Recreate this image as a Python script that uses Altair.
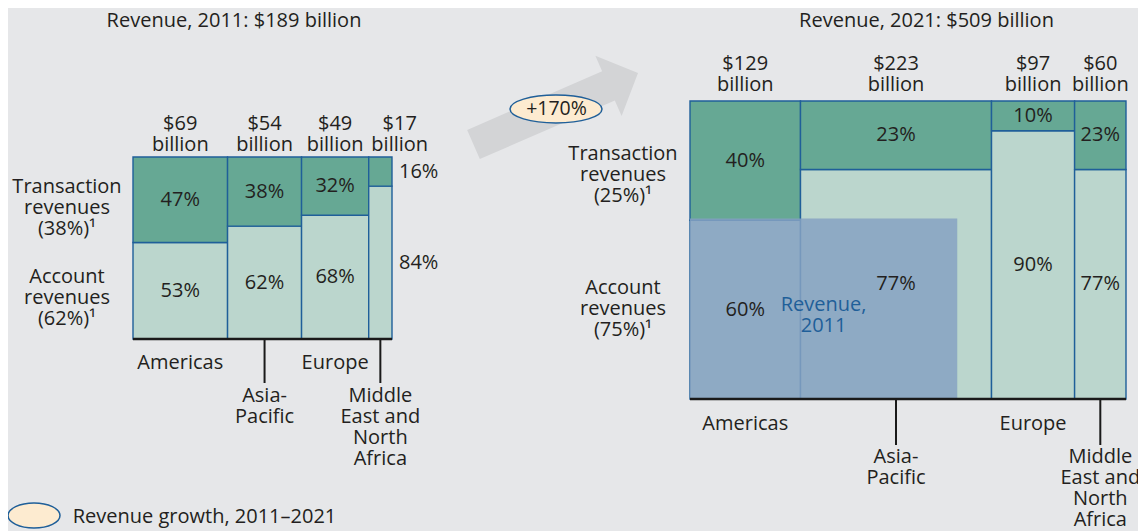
import altair as alt
import pandas as pd

# ---------------- data ----------------
regions = ["Americas", "Asia-Pacific", "Europe", "Middle East and North Africa"]
region_labels = ["Americas", "Asia-\nPacific", "Europe", "Middle\nEast and\nNorth\nAfrica"]
rev_2011 = [69, 54, 49, 17]
txn_2011 = [47, 38, 32, 16]
acc_2011 = [53, 62, 68, 84]
rev_2021 = [129, 223, 97, 60]
txn_2021 = [40, 23, 10, 23]
acc_2021 = [60, 77, 90, 77]
total_2011 = 189
total_2021 = 509
txn_share = {2011: 38, 2021: 25}
acc_share = {2011: 62, 2021: 75}
growth_pct = 170
overlay_width_2011 = 312  # 2011 block drawn at 2021 scale, width in $ billion units

# ---------------- style ----------------
BG = "#e6e7e9"
DARK = "#66a894"
LIGHT = "#bbd6cd"
EDGE = "#1f5f99"
OVER = "#86a2c2"
INK = "#231f20"
FONT = "Open Sans"
FS = 20
LH = 21

W, H, M = 1130, 523, 8


def build(rev, txn, acc):
    seg, col = [], []
    x = 0
    for i, (r, t, a) in enumerate(zip(rev, txn, acc)):
        seg.append(dict(idx=i, region=regions[i], seg="Account", x0=x, x1=x + r, y0=0, y1=a, pct=f"{a}%"))
        seg.append(dict(idx=i, region=regions[i], seg="Transaction", x0=x, x1=x + r, y0=a, y1=a + t, pct=f"{t}%"))
        col.append(dict(idx=i, label=region_labels[i], value=f"${r}\nbillion",
                        x0=x, x1=x + r, xm=x + r / 2, odd=i % 2))
        x += r
    return pd.DataFrame(seg), pd.DataFrame(col)


seg11, col11 = build(rev_2011, txn_2011, acc_2011)
seg21, col21 = build(rev_2021, txn_2021, acc_2021)
base11 = pd.DataFrame([dict(x0=0, x1=total_2011, y=0)])
base21 = pd.DataFrame([dict(x0=0, x1=total_2021, y=0)])
ov = pd.DataFrame([dict(x0=0, x1=overlay_width_2011, y0=0,
                        y1=total_2011 / overlay_width_2011 * 100, label="Revenue,\n2011")])


def xscale(left_px, right_px, total):
    ppu = (right_px - left_px) / total
    x0 = left_px - M
    return alt.Scale(domain=[-x0 / ppu, (W - x0) / ppu], nice=False, zero=False)


def yscale(top_px, bottom_px):
    ppu = (bottom_px - top_px) / 100
    y0 = bottom_px - M
    return alt.Scale(domain=[-(H - y0) / ppu, y0 / ppu], nice=False, zero=False)


XL = xscale(133, 392, total_2011)
YL = yscale(157, 339)
XR = xscale(690, 1126, total_2021)
YR = yscale(101, 399)

txt = dict(font=FONT, fontSize=FS, color=INK, lineBreak="\n", lineHeight=LH)
color = alt.Color("seg:N", scale=alt.Scale(domain=["Transaction", "Account"], range=[DARK, LIGHT]), legend=None)
NARROW = 25  # $ billion: columns narrower than this get their labels outside


def qx(f, s):
    return alt.X(f, type="quantitative", scale=s, axis=None)


def qy(f, s):
    return alt.Y(f, type="quantitative", scale=s, axis=None)


def rects(df, xs, ys):
    return alt.Chart(df).mark_rect(stroke=EDGE, strokeWidth=1.4).encode(
        x=qx("x0", xs), x2="x1", y=qy("y0", ys), y2="y1", color=color)


def pct_labels(df, xs, ys):
    b = alt.Chart(df).transform_calculate(
        xm="(datum.x0+datum.x1)/2", ym="(datum.y0+datum.y1)/2", w="datum.x1-datum.x0")
    inside = b.transform_filter(f"datum.w >= {NARROW}").mark_text(baseline="middle", **txt).encode(
        x=qx("xm:Q", xs), y=qy("ym:Q", ys), text="pct:N")
    outside = b.transform_filter(f"datum.w < {NARROW}").mark_text(baseline="middle", align="left", dx=7, **txt).encode(
        x=qx("x1:Q", xs), y=qy("ym:Q", ys), text="pct:N")
    return [inside, outside]


def axis_parts(col, base, xs, ys, top_dy, even_dy, odd_dy, tick_len):
    baseline = alt.Chart(base).mark_rule(color="#1a1a1a", strokeWidth=2.5).encode(
        x=qx("x0", xs), x2="x1", y=qy("y", ys))
    ticks = alt.Chart(col).transform_filter("datum.odd == 1").transform_calculate(ymin="0").mark_rule(
        color="#1a1a1a", strokeWidth=2, y2Offset=tick_len).encode(
        x=qx("xm", xs), y=qy("ymin:Q", ys), y2="ymin:Q")
    even = alt.Chart(col).transform_filter("datum.odd == 0").transform_calculate(yb="0").mark_text(
        baseline="top", dy=even_dy, **txt).encode(x=qx("xm", xs), y=qy("yb:Q", ys), text="label:N")
    odd = alt.Chart(col).transform_filter("datum.odd == 1").transform_calculate(yb="0").mark_text(
        baseline="top", dy=odd_dy, **txt).encode(x=qx("xm", xs), y=qy("yb:Q", ys), text="label:N")
    vb = alt.Chart(col).transform_calculate(yt="100", w="datum.x1-datum.x0")
    vals = vb.transform_filter(f"datum.w >= {NARROW}").mark_text(
        baseline="top", dy=top_dy, **txt).encode(x=qx("xm", xs), y=qy("yt:Q", ys), text="value:N")
    vals_n = vb.transform_filter(f"datum.w < {NARROW}").mark_text(
        baseline="top", dy=top_dy, dx=31, **txt).encode(x=qx("x0", xs), y=qy("yt:Q", ys), text="value:N")
    return [baseline, ticks, even, odd, vals, vals_n]


one = pd.DataFrame({"a": [0]})


def note(text, x, y, **kw):
    opts = dict(txt)
    opts.update(kw)
    return alt.Chart(one).mark_text(text=text, **opts).encode(x=alt.value(x), y=alt.value(y))


overlay = alt.Chart(ov).mark_rect(color=OVER, opacity=0.85).encode(
    x=qx("x0", XR), x2="x1", y=qy("y0", YR), y2="y1")
overlay_text = alt.Chart(ov).transform_calculate(
    cx="datum.x1/2", cy="datum.y1/2").mark_text(
    baseline="top", dy=-14, **{**txt, "color": EDGE}).encode(
    x=qx("cx:Q", XR), y=qy("cy:Q", YR), text="label:N")

ARROW = "M-1,-0.177L0.641,-0.177L0.641,-0.367L1,0L0.641,0.367L0.641,0.177L-1,0.177Z"
ELL_A = "M-1,0A1,0.304,0,1,0,1,0A1,0.304,0,1,0,-1,0Z"
ELL_L = "M-1,0A1,0.48,0,1,0,1,0A1,0.48,0,1,0,-1,0Z"

arrow = alt.Chart(one).mark_point(shape=ARROW, size=179.4 ** 2, filled=True, color="#d3d4d6",
                                  opacity=1, angle=336.5, strokeWidth=0).encode(
    x=alt.value(547.75), y=alt.value(100.75))
ell = alt.Chart(one).mark_point(shape=ELL_A, size=92 ** 2, filled=True, fill="#fdebd0",
                                stroke=EDGE, strokeWidth=1.5, opacity=1).encode(
    x=alt.value(548), y=alt.value(101))
ell_leg = alt.Chart(one).mark_point(shape=ELL_L, size=52 ** 2, filled=True, fill="#fdebd0",
                                    stroke=EDGE, strokeWidth=1.5, opacity=1).encode(
    x=alt.value(26), y=alt.value(507.5))

layers = [
    rects(seg11, XL, YL),
    rects(seg21, XR, YR),
    overlay,
    overlay_text,
    *pct_labels(seg11, XL, YL),
    *pct_labels(seg21, XR, YR),
    *axis_parts(col11, base11, XL, YL, -43, 14, 47, 44),
    *axis_parts(col21, base21, XR, YR, -47, 15, 48, 46),
    note(f"Revenue, 2011: ${total_2011} billion", 226, 13, baseline="middle"),
    note(f"Revenue, 2021: ${total_2021} billion", 918.5, 13, baseline="middle"),
    note(f"Transaction\nrevenues\n({txn_share[2011]}%)\u00b9", 59, 169, baseline="top"),
    note(f"Account\nrevenues\n({acc_share[2011]}%)\u00b9", 59, 259, baseline="top"),
    note(f"Transaction\nrevenues\n({txn_share[2021]}%)\u00b9", 615, 136, baseline="top"),
    note(f"Account\nrevenues\n({acc_share[2021]}%)\u00b9", 615, 270, baseline="top"),
    arrow,
    ell,
    note(f"+{growth_pct}%", 548.5, 101, baseline="middle", fontSize=19.5),
    ell_leg,
    note("Revenue growth, 2011\u20132021", 64.7, 509, baseline="middle", align="left"),
]

chart = alt.layer(*layers).resolve_scale(
    x="independent", y="independent", color="independent"
).properties(
    width=W, height=H, padding=0, background=BG,
    autosize=alt.AutoSizeParams(type="none"),
).configure_view(stroke=None)

chart.save("out.html", embed_options={"renderer": "svg", "actions": False})
